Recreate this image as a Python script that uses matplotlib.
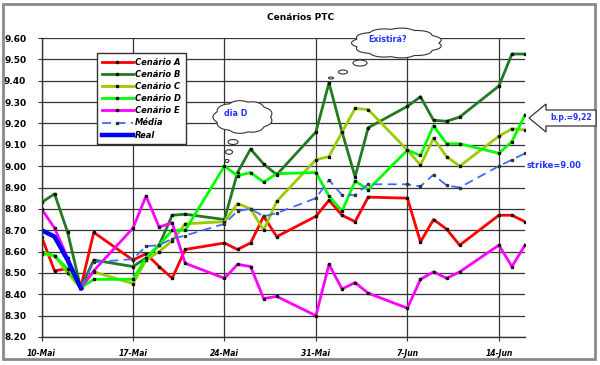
import numpy as np
import matplotlib
matplotlib.use('Agg')
import matplotlib.pyplot as plt
from matplotlib.patches import Rectangle, Ellipse, Polygon

# trading days counted from 10-Mai
days = [0, 1, 2, 3, 4, 7, 8, 9, 10, 11, 14, 15, 16, 17, 18,
        21, 22, 23, 24, 25, 28, 29, 30, 31, 32, 35, 36, 37]

cen_a = [8.67, 8.51, 8.52, 8.43, 8.69, 8.56, 8.59, 8.53, 8.475, 8.61, 8.64, 8.61, 8.64, 8.765,
         8.67, 8.765, 8.84, 8.77, 8.74, 8.855, 8.85, 8.645, 8.75, 8.705, 8.63, 8.77, 8.77, 8.74]
cen_b = [8.83, 8.87, 8.69, 8.43, 8.56, 8.53, 8.57, 8.63, 8.77, 8.775, 8.75, 8.97, 9.08, 9.01,
         8.96, 9.16, 9.39, 9.16, 8.95, 9.18, 9.28, 9.325, 9.215, 9.21, 9.23, 9.375, 9.525, 9.525]
cen_c = [8.59, 8.58, 8.50, 8.43, 8.505, 8.45, 8.56, 8.60, 8.65, 8.73, 8.74, 8.825, 8.80, 8.70,
         8.835, 9.03, 9.045, 9.16, 9.27, 9.265, 9.075, 9.005, 9.13, 9.045, 9.00, 9.14, 9.175, 9.17]
cen_d = [8.60, 8.58, 8.52, 8.43, 8.47, 8.47, 8.57, 8.63, 8.70, 8.70, 9.00, 8.955, 8.97, 8.925,
         8.965, 8.97, 8.86, 8.79, 8.93, 8.89, 9.075, 9.05, 9.19, 9.105, 9.105, 9.06, 9.115, 9.24]
cen_e = [8.80, 8.71, 8.57, 8.43, 8.51, 8.71, 8.86, 8.715, 8.735, 8.545, 8.475, 8.54, 8.53, 8.38,
         8.39, 8.30, 8.54, 8.425, 8.455, 8.405, 8.335, 8.47, 8.505, 8.475, 8.505, 8.63, 8.53, 8.63]
media = [8.70, 8.66, 8.55, 8.43, 8.55, 8.565, 8.625, 8.63, 8.66, 8.675, 8.73, 8.79, 8.80, 8.765,
         8.78, 8.85, 8.935, 8.865, 8.865, 8.915, 8.915, 8.905, 8.96, 8.91, 8.90, 9.00, 9.03, 9.06]
real_days = [0, 1, 2, 3]
real = [8.70, 8.67, 8.56, 8.43]

tick_days = [0, 7, 14, 21, 28, 35]
tick_labels = ['10-Mai', '17-Mai', '24-Mai', '31-Mai', '7-Jun', '14-Jun']

fig = plt.figure(figsize=(6, 3.65), dpi=100)
ax = fig.add_axes([41.5/600, 1-337/365, (525-41.5)/600, (337-38)/365])

mk = dict(marker='s', ms=1.7, mfc='#111', mec='#111')
ax.plot(days, cen_a, color='#FF0000', lw=2, label='Cenário A', **mk)
ax.plot(days, cen_b, color='#227A22', lw=2, label='Cenário B', **mk)
ax.plot(days, cen_c, color='#99CC00', lw=2, label='Cenário C', **mk)
ax.plot(days, cen_d, color='#00FF00', lw=2, label='Cenário D', **mk)
ax.plot(days, cen_e, color='#FF00FF', lw=2, label='Cenário E', **mk)
ax.plot(days, media, color='#3D6BFF', lw=1.3, ls=(0, (5, 3)), label='Média',
        marker='s', ms=1.5, mfc='#333', mec='#333')
ax.plot(real_days, real, color='#0000FF', lw=3.2, label='Real')

ax.set_xlim(0, 37)
ax.set_ylim(8.20, 9.60)
ax.set_yticks(np.arange(8.2, 9.61, 0.1))
ax.set_yticklabels(['%.2f' % v for v in np.arange(8.2, 9.61, 0.1)], fontsize=6.5, fontweight='bold')
ax.set_xticks(tick_days)
ax.set_xticklabels(tick_labels, fontsize=5.5, fontweight='bold', style='italic')
ax.tick_params(axis='y', length=3, pad=8, color='#333')
ax.tick_params(axis='x', length=3, pad=6, color='#333')
ax.grid(True, color='#333', lw=0.9)
ax.set_axisbelow(True)
for s in ['top', 'right']:
    ax.spines[s].set_visible(False)
for s in ['left', 'bottom']:
    ax.spines[s].set_color('#333')
    ax.spines[s].set_linewidth(1)

leg = ax.legend(loc='upper left', bbox_to_anchor=(97/600, 1-53/365), bbox_transform=fig.transFigure,
                fancybox=False, edgecolor='#333', framealpha=1, handlelength=3.8,
                prop=dict(size=6, weight='bold', style='italic'), labelspacing=0.38,
                borderpad=0.55, handletextpad=0.2, borderaxespad=0)
leg.get_frame().set_linewidth(1)

# overlay in pixel coordinates for frame, title and callouts
ov = fig.add_axes([0, 0, 1, 1], zorder=5)
ov.set_xlim(0, 600)
ov.set_ylim(365, 0)
ov.axis('off')
ov.patch.set_alpha(0)

ov.add_patch(Rectangle((3, 4), 592, 355, fill=False, ec='#8a8a8a', lw=2))
ov.text(301, 18, 'Cenários PTC', ha='center', va='center', fontsize=6.5, fontweight='bold')


def cloud(cx, cy, w, h, n=11):
    t = np.linspace(0, 2*np.pi, 500)
    bump = 1 + 0.09*np.abs(np.sin(n*t/2))
    x = cx + w/2/1.09*np.cos(t)*bump
    y = cy + h/2/1.09*np.sin(t)*bump
    ov.fill(x, y, facecolor='white', edgecolor='#333', lw=0.8)


cloud(397, 43, 91, 30)
ov.text(388, 40, 'Existirá?', ha='center', va='center', fontsize=5.8, fontweight='bold', color='#2233FF')
for (bx, by, bw, bh) in [(360, 63, 14, 6), (343, 72, 9, 4), (331, 78, 5, 2)]:
    ov.add_patch(Ellipse((bx, by), bw, bh, fc='white', ec='#333', lw=0.8))

cloud(243, 117, 60, 33, n=9)
ov.text(236, 113, 'dia D', ha='center', va='center', fontsize=5.8, fontweight='bold', color='#2233FF')
for (bx, by, bw, bh) in [(233, 142, 10, 5), (229, 152, 7, 4.5), (227, 161, 4, 3)]:
    ov.add_patch(Ellipse((bx, by), bw, bh, fc='white', ec='#333', lw=0.8))

ov.add_patch(Polygon([(529, 118), (546, 104), (546, 110), (596, 110), (596, 126), (546, 126), (546, 132)],
                     closed=True, fc='white', ec='#333', lw=0.9))
ov.text(571, 118, 'b.p.=9,22', ha='center', va='center', fontsize=5.5, fontweight='bold', color='#2233FF')
ov.text(527, 165, 'strike=9.00', ha='left', va='center', fontsize=6, fontweight='bold', color='#2233FF')

fig.savefig('out.png', dpi=100)
